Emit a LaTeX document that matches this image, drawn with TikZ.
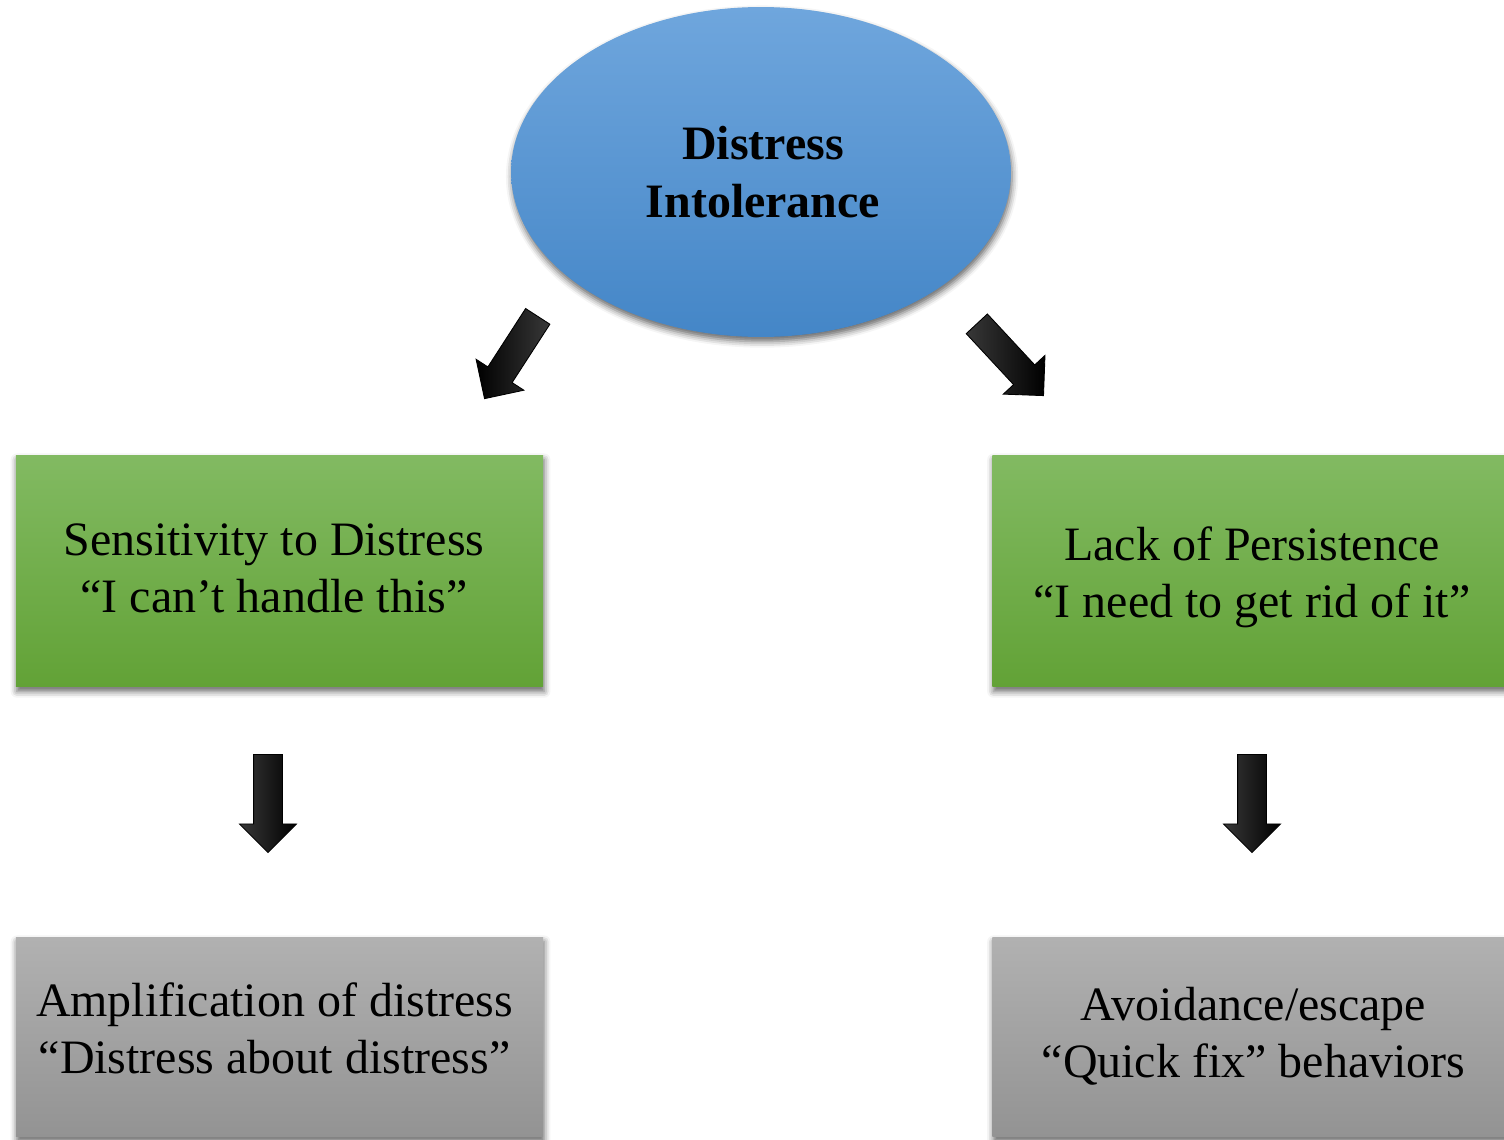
\documentclass[tikz,border=0pt]{standalone}
\usepackage{fontspec}
\setmainfont{Liberation Serif}
\usetikzlibrary{shapes.geometric,shapes.arrows,shadows.blur}

\definecolor{blueTop}{HTML}{6FA6DD}
\definecolor{blueBot}{HTML}{4486C7}
\definecolor{greenTop}{HTML}{82BA62}
\definecolor{greenBot}{HTML}{62A236}
\definecolor{grayTop}{HTML}{B1B1B1}
\definecolor{grayBot}{HTML}{939393}

\tikzset{
  softshadow/.style={blur shadow={shadow xshift=0.6pt, shadow yshift=-2.6pt,
      shadow blur radius=3.5pt, shadow opacity=60}},
  panel/.style={rectangle, draw=none, inner sep=0pt, softshadow,
      minimum width=10.55cm},
  greenpanel/.style={panel, top color=greenTop, bottom color=greenBot,
      minimum height=4.64cm},
  graypanel/.style={panel, top color=grayTop, bottom color=grayBot,
      minimum height=4cm},
  caption/.style={font=\fontsize{27.3}{32.6}\selectfont, align=center,
      inner sep=0pt, text=black},
  blockarrow/.style={single arrow, draw=black, line width=0.5pt,
      left color=black!78, middle color=black, right color=black,
      minimum height=1.96cm, inner xsep=0pt, inner ysep=0.28cm,
      single arrow head extend=0.28cm, single arrow tip angle=90,
      anchor=tail},
  % same arrow with the gradient run the other way
  blockarrowrev/.style={blockarrow,
      left color=black, middle color=black, right color=black!78}
}

\begin{document}
\begin{tikzpicture}[x=0.02cm,y=-0.02cm]
  \useasboundingbox (0,0) rectangle (1504,1139);

  % central concept
  \node[ellipse, minimum width=10cm, minimum height=6.6cm, inner sep=0pt,
        top color=blueTop, bottom color=blueBot, softshadow] (core) at (761,172) {};
  \node[caption, font=\fontsize{27.3}{33}\selectfont\bfseries] (coretext) at (763,172)
        {Distress\\Intolerance};

  % first level
  \node[greenpanel] (sens) at (279.5,571) {};
  \node[caption] (senstext) at (274,568)
        {Sensitivity to Distress\\“I can’t handle this”};
  \node[greenpanel] (lack) at (1256,571) {};
  \node[caption] (lacktext) at (1252,577)
        {Lack of Persistence\\“I need to get rid of it”};

  % second level
  \node[graypanel] (ampl) at (279.5,1037) {};
  \node[caption] (ampltext) at (274.5,1028)
        {Amplification of distress\\“Distress about distress”};
  \node[graypanel] (avoid) at (1256,1037) {};
  \node[caption] (avoidtext) at (1253.5,1036)
        {Avoidance/escape\\“Quick fix” behaviors};

  % block arrows between the levels
  \node[blockarrowrev, rotate=-122.9] (a1) at (538,316) {};
  \node[blockarrow, rotate=-47.1] (a2) at (976.5,323.5) {};
  \node[blockarrow, rotate=-90] (a3) at (268,754) {};
  \node[blockarrow, rotate=-90] (a4) at (1252,754) {};
\end{tikzpicture}
\end{document}
